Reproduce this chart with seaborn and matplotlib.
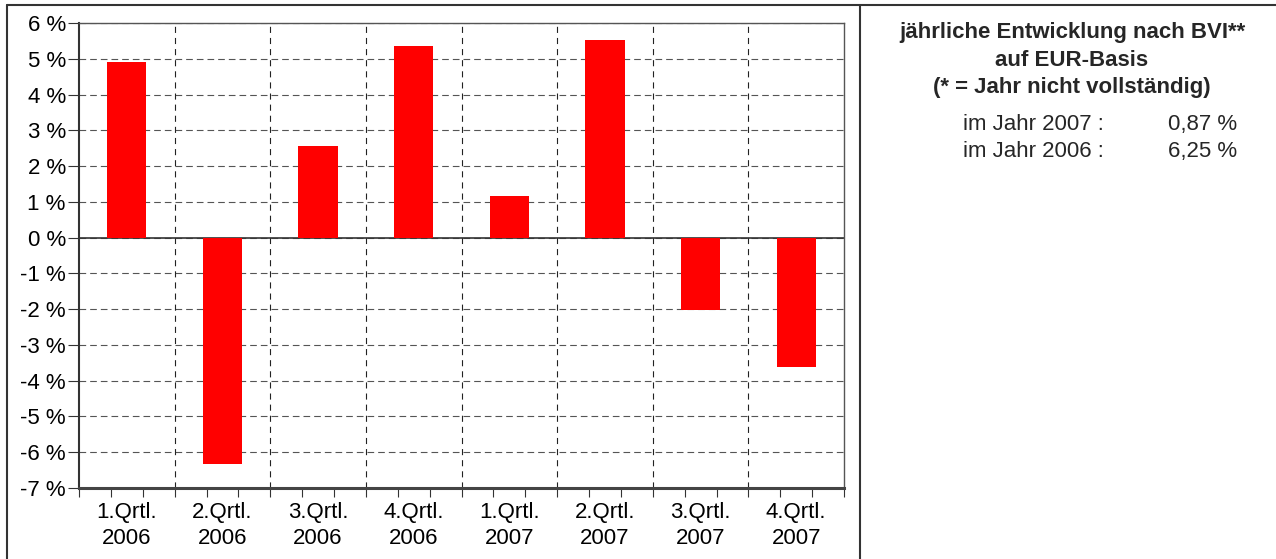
import numpy as np
import matplotlib
matplotlib.use("Agg")
import matplotlib.pyplot as plt
import seaborn as sns
from matplotlib.lines import Line2D

# data
quarters = ["1.Qrtl.", "2.Qrtl.", "3.Qrtl.", "4.Qrtl.", "1.Qrtl.", "2.Qrtl.", "3.Qrtl.", "4.Qrtl."]
years = ["2006", "2006", "2006", "2006", "2007", "2007", "2007", "2007"]
changes = [4.92, -6.32, 2.57, 5.37, 1.17, 5.52, -2.02, -3.63]
y_ticks = list(range(-7, 7))
y_labels = [f"{v} %" for v in y_ticks]

title_lines = ["jährliche Entwicklung nach BVI**", "auf EUR-Basis", "(* = Jahr nicht vollständig)"]
summary_years = ["2007", "2006"]
summary_values = ["0,87 %", "6,25 %"]

sns.set_style("white")
plt.rcParams["font.family"] = ["Liberation Sans", "DejaVu Sans"]

W, H = 1276, 559
fig = plt.figure(figsize=(W / 100, H / 100), dpi=100)
ax = fig.add_axes([79 / W, 1 - 488 / H, 765 / W, 465 / H])

labels = [f"{q}\n{y}" for q, y in zip(quarters, years)]
sns.barplot(x=labels, y=changes, order=labels, color="#ff0000", saturation=1,
            width=0.41, linewidth=0, ax=ax, zorder=3)

ax.set_xlim(-0.5, 7.5)
ax.set_ylim(-7, 6)

# y axis
ax.set_yticks(y_ticks, y_labels)
ax.tick_params(axis="y", length=8, width=0.8, color="#333333", pad=1.5,
               labelsize=16, labelcolor="black", left=True)
ax.yaxis.grid(True, color="#555555", lw=0.8, ls=(0, (6, 3.6)))
ax.set_axisbelow(True)

# x axis: small ticks every third of a category, labels at centres
ax.set_xticks(np.arange(-0.5, 7.5 + 1e-9, 1 / 3))
ax.tick_params(axis="x", which="major", length=6.5, width=0.8, color="#333333",
               labelbottom=False, bottom=True)
ax.set_xticks(range(len(labels)), labels, minor=True)
ax.tick_params(axis="x", which="minor", length=0, pad=10, labelsize=16,
               labelcolor="black")
plt.setp(ax.get_xticklabels(minor=True), linespacing=1.3)
ax.xaxis.grid(False)
for b in np.arange(0.5, 7.5, 1):
    ax.axvline(b, color="#222222", lw=0.8, ls=(0, (5.5, 4.5)), zorder=1)
ax.axhline(0, color="#333333", lw=1.2, zorder=2)
ax.set_xlabel("")
ax.set_ylabel("")

for side in ["top", "right"]:
    ax.spines[side].set_color("#555555")
    ax.spines[side].set_linewidth(1)
ax.spines["left"].set_color("#333333")
ax.spines["left"].set_linewidth(1.5)
ax.spines["bottom"].set_color("#444444")
ax.spines["bottom"].set_linewidth(2.2)

# outer frame and divider
fx = lambda px: px / W
fy = lambda py: 1 - py / H
fig.add_artist(Line2D([fx(7), fx(7)], [0, fy(5)], transform=fig.transFigure, color="#333333", lw=1.5))
fig.add_artist(Line2D([fx(7), 1], [fy(5), fy(5)], transform=fig.transFigure, color="#333333", lw=1.5))
fig.add_artist(Line2D([fx(860), fx(860)], [0, fy(5)], transform=fig.transFigure, color="#333333", lw=1.5))

# right panel text
for line, base in zip(title_lines, [38, 66, 93]):
    fig.text(fx(1072), fy(base), line, ha="center", va="baseline",
             fontsize=16, fontweight="bold")
for yr, val, base in zip(summary_years, summary_values, [130, 157]):
    fig.text(fx(963), fy(base), f"im Jahr {yr} :", ha="left", va="baseline", fontsize=16)
    fig.text(fx(1237), fy(base), val, ha="right", va="baseline", fontsize=16)

fig.savefig("out.png", dpi=100)
